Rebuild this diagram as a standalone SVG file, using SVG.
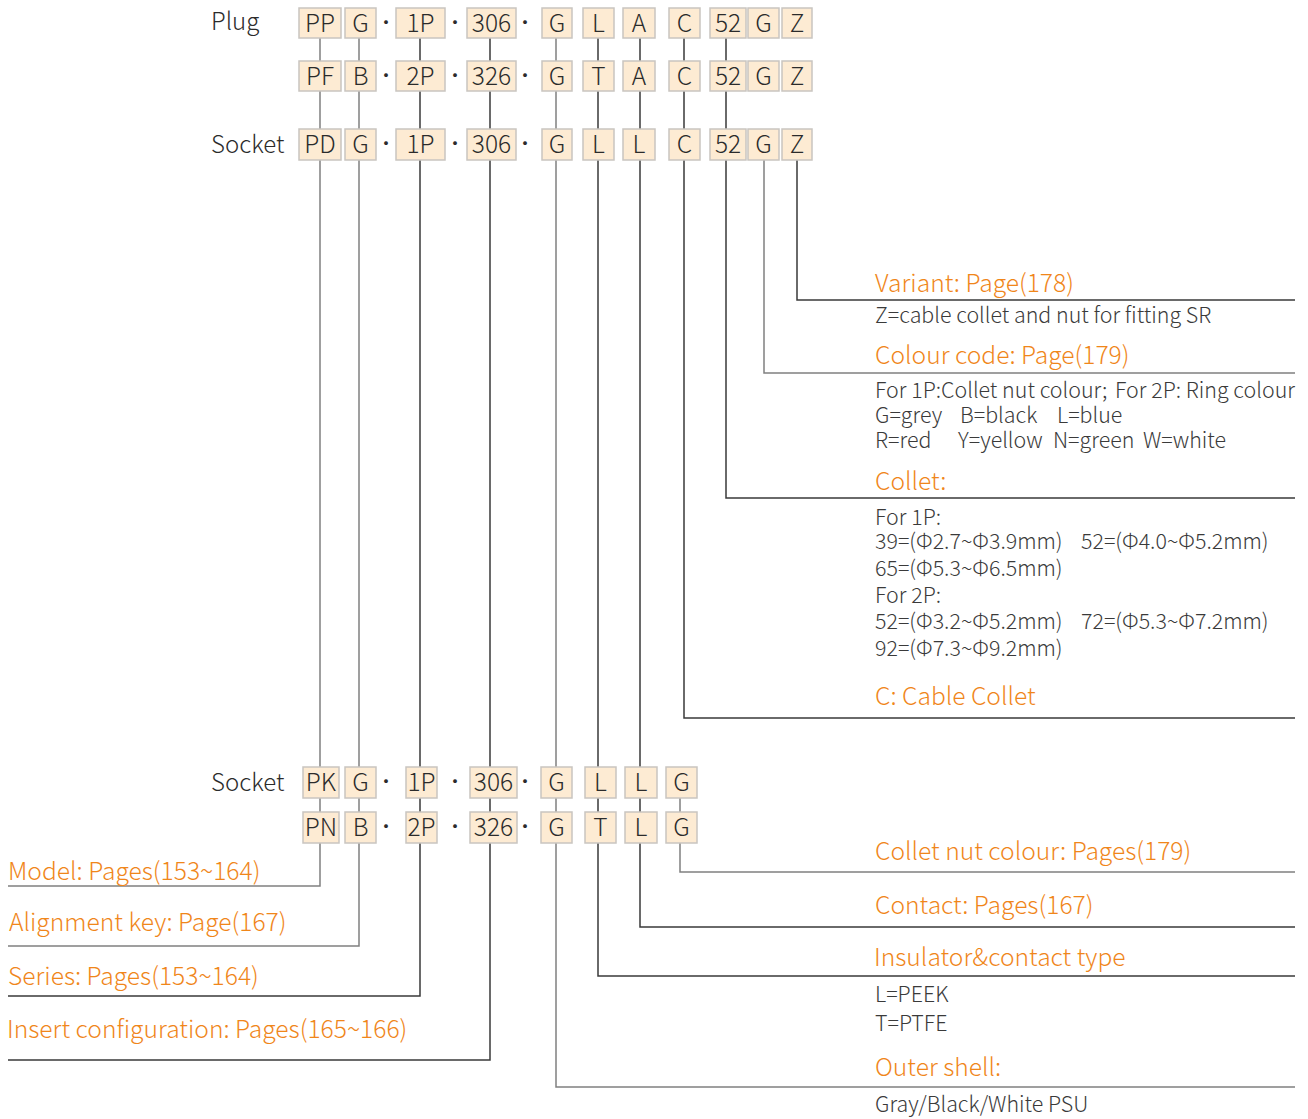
<svg xmlns="http://www.w3.org/2000/svg" width="1308" height="1119" viewBox="0 0 1308 1119">
<style>
.bx rect{fill:#fdebd3;stroke:#c9c5c0;stroke-width:1.5}
.bx text{font-family:"Noto Sans CJK SC","Noto Sans",sans-serif;font-size:24.5px;fill:#2b2b2b;text-anchor:middle;font-weight:300}
.bx .dot{font-size:20px}
.lbl{font-family:"Noto Sans CJK SC","Noto Sans",sans-serif;font-size:24px;fill:#2b2b2b;font-weight:300}
.or{font-family:"Noto Sans CJK SC","Noto Sans",sans-serif;font-size:24.6px;fill:#f0861a;font-weight:300}
.ds{font-family:"Noto Sans CJK SC","Noto Sans",sans-serif;font-size:21.4px;fill:#3a3a3a;font-weight:300}
.dk{fill:none;stroke:#3a3a3a;stroke-width:1.5}
.gy{fill:none;stroke:#808080;stroke-width:1.5}
</style>
<rect width="1308" height="1119" fill="#fff"/>
<g id="connectors">
<polyline class="gy" points="320,38 320,886 8,886"/>
<polyline class="gy" points="359,38 359,946 8,946"/>
<polyline class="dk" points="420,38 420,996 8,996"/>
<polyline class="dk" points="490,38 490,1060 8,1060"/>
<polyline class="gy" points="556,38 556,1087 1295,1087"/>
<polyline class="dk" points="598,38 598,976 1295,976"/>
<polyline class="dk" points="640,38 640,927 1295,927"/>
<polyline class="dk" points="684,38 684,718 1295,718"/>
<polyline class="dk" points="726,38 726,498 1295,498"/>
<polyline class="gy" points="764,160 764,373 1295,373"/>
<polyline class="dk" points="797,160 797,300 1295,300"/>
<polyline class="gy" points="680,798 680,872 1295,872"/>
</g>
<g id="row-labels">
<text class="lbl" x="211" y="30">Plug</text>
<text class="lbl" x="211" y="153">Socket</text>
<text class="lbl" x="211" y="791">Socket</text>
</g>
<g id="plug-row1" class="bx">
<rect x="299" y="8" width="42" height="30"/><text x="320" y="32">PP</text>
<rect x="345" y="8" width="31" height="30"/><text x="360.5" y="32">G</text>
<text class="dot" x="386" y="30">·</text>
<rect x="396" y="8" width="49" height="30"/><text x="420.5" y="32">1P</text>
<text class="dot" x="455" y="30">·</text>
<rect x="467" y="8" width="49" height="30"/><text x="491.5" y="32">306</text>
<text class="dot" x="525" y="30">·</text>
<rect x="542" y="8" width="30" height="30"/><text x="557" y="32">G</text>
<rect x="583" y="8" width="31" height="30"/><text x="598.5" y="32">L</text>
<rect x="623" y="8" width="32" height="30"/><text x="639" y="32">A</text>
<rect x="669" y="8" width="31" height="30"/><text x="684.5" y="32">C</text>
<rect x="710" y="8" width="36" height="30"/><text x="728" y="32">52</text>
<rect x="748" y="8" width="31" height="30"/><text x="763.5" y="32">G</text>
<rect x="782" y="8" width="30" height="30"/><text x="797" y="32">Z</text>
</g>
<g id="plug-row2" class="bx">
<rect x="299" y="61" width="42" height="30"/><text x="320" y="85">PF</text>
<rect x="345" y="61" width="31" height="30"/><text x="360.5" y="85">B</text>
<text class="dot" x="386" y="83">·</text>
<rect x="396" y="61" width="49" height="30"/><text x="420.5" y="85">2P</text>
<text class="dot" x="455" y="83">·</text>
<rect x="467" y="61" width="49" height="30"/><text x="491.5" y="85">326</text>
<text class="dot" x="525" y="83">·</text>
<rect x="542" y="61" width="30" height="30"/><text x="557" y="85">G</text>
<rect x="583" y="61" width="31" height="30"/><text x="598.5" y="85">T</text>
<rect x="623" y="61" width="32" height="30"/><text x="639" y="85">A</text>
<rect x="669" y="61" width="31" height="30"/><text x="684.5" y="85">C</text>
<rect x="710" y="61" width="36" height="30"/><text x="728" y="85">52</text>
<rect x="748" y="61" width="31" height="30"/><text x="763.5" y="85">G</text>
<rect x="782" y="61" width="30" height="30"/><text x="797" y="85">Z</text>
</g>
<g id="socket-row1" class="bx">
<rect x="299" y="129" width="42" height="31"/><text x="320" y="153">PD</text>
<rect x="345" y="129" width="31" height="31"/><text x="360.5" y="153">G</text>
<text class="dot" x="386" y="151">·</text>
<rect x="396" y="129" width="49" height="31"/><text x="420.5" y="153">1P</text>
<text class="dot" x="455" y="151">·</text>
<rect x="467" y="129" width="49" height="31"/><text x="491.5" y="153">306</text>
<text class="dot" x="525" y="151">·</text>
<rect x="542" y="129" width="30" height="31"/><text x="557" y="153">G</text>
<rect x="583" y="129" width="31" height="31"/><text x="598.5" y="153">L</text>
<rect x="623" y="129" width="32" height="31"/><text x="639" y="153">L</text>
<rect x="669" y="129" width="31" height="31"/><text x="684.5" y="153">C</text>
<rect x="710" y="129" width="36" height="31"/><text x="728" y="153">52</text>
<rect x="748" y="129" width="31" height="31"/><text x="763.5" y="153">G</text>
<rect x="782" y="129" width="30" height="31"/><text x="797" y="153">Z</text>
</g>
<g id="socket-row2" class="bx">
<rect x="303" y="767" width="36" height="31"/><text x="321" y="791">PK</text>
<rect x="345" y="767" width="31" height="31"/><text x="360.5" y="791">G</text>
<text class="dot" x="386" y="789">·</text>
<rect x="406" y="767" width="31" height="31"/><text x="421.5" y="791">1P</text>
<text class="dot" x="455" y="789">·</text>
<rect x="470" y="767" width="47" height="31"/><text x="493.5" y="791">306</text>
<text class="dot" x="525" y="789">·</text>
<rect x="541" y="767" width="31" height="31"/><text x="556.5" y="791">G</text>
<rect x="585" y="767" width="31" height="31"/><text x="600.5" y="791">L</text>
<rect x="625" y="767" width="32" height="31"/><text x="641" y="791">L</text>
<rect x="666" y="767" width="31" height="31"/><text x="681.5" y="791">G</text>
</g>
<g id="socket-row3" class="bx">
<rect x="303" y="812" width="36" height="31"/><text x="321" y="836">PN</text>
<rect x="345" y="812" width="31" height="31"/><text x="360.5" y="836">B</text>
<text class="dot" x="386" y="834">·</text>
<rect x="406" y="812" width="31" height="31"/><text x="421.5" y="836">2P</text>
<text class="dot" x="455" y="834">·</text>
<rect x="470" y="812" width="47" height="31"/><text x="493.5" y="836">326</text>
<text class="dot" x="525" y="834">·</text>
<rect x="541" y="812" width="31" height="31"/><text x="556.5" y="836">G</text>
<rect x="585" y="812" width="31" height="31"/><text x="600.5" y="836">T</text>
<rect x="625" y="812" width="32" height="31"/><text x="641" y="836">L</text>
<rect x="666" y="812" width="31" height="31"/><text x="681.5" y="836">G</text>
</g>
<g id="variant"><text class="or" x="875" y="292">Variant: Page(178)</text><text class="ds" x="875" y="323">Z=cable collet and nut for fitting SR</text></g>
<g id="colour-code"><text class="or" x="875" y="364">Colour code: Page(179)</text>
<text class="ds" x="875" y="398">For 1P:Collet nut colour;</text><text class="ds" x="1115" y="398">For 2P: Ring colour</text>
<text class="ds" x="875" y="423">G=grey</text><text class="ds" x="960" y="423">B=black</text><text class="ds" x="1057" y="423">L=blue</text>
<text class="ds" x="875" y="448">R=red</text><text class="ds" x="958" y="448">Y=yellow</text><text class="ds" x="1053" y="448">N=green</text><text class="ds" x="1143" y="448">W=white</text></g>
<g id="collet"><text class="or" x="875" y="490">Collet:</text>
<text class="ds" x="875" y="525">For 1P:</text>
<text class="ds" x="875" y="549">39=(Φ2.7~Φ3.9mm)</text><text class="ds" x="1081" y="549">52=(Φ4.0~Φ5.2mm)</text>
<text class="ds" x="875" y="576">65=(Φ5.3~Φ6.5mm)</text>
<text class="ds" x="875" y="603">For 2P:</text>
<text class="ds" x="875" y="629">52=(Φ3.2~Φ5.2mm)</text><text class="ds" x="1081" y="629">72=(Φ5.3~Φ7.2mm)</text>
<text class="ds" x="875" y="656">92=(Φ7.3~Φ9.2mm)</text></g>
<g id="cable-collet"><text class="or" x="875" y="705">C: Cable Collet</text></g>
<g id="collet-nut"><text class="or" x="875" y="860">Collet nut colour: Pages(179)</text></g>
<g id="contact"><text class="or" x="875" y="914">Contact: Pages(167)</text></g>
<g id="insulator"><text class="or" x="874" y="966">Insulator&amp;contact type</text>
<text class="ds" x="875" y="1002">L=PEEK</text><text class="ds" x="875" y="1031">T=PTFE</text></g>
<g id="outer-shell"><text class="or" x="875" y="1076">Outer shell:</text><text class="ds" x="875" y="1112">Gray/Black/White PSU</text></g>
<g id="model"><text class="or" x="8" y="880">Model: Pages(153~164)</text></g>
<g id="alignment"><text class="or" x="9" y="931">Alignment key: Page(167)</text></g>
<g id="series"><text class="or" x="8" y="985">Series: Pages(153~164)</text></g>
<g id="insert"><text class="or" x="7" y="1038">Insert configuration: Pages(165~166)</text></g>
</svg>
